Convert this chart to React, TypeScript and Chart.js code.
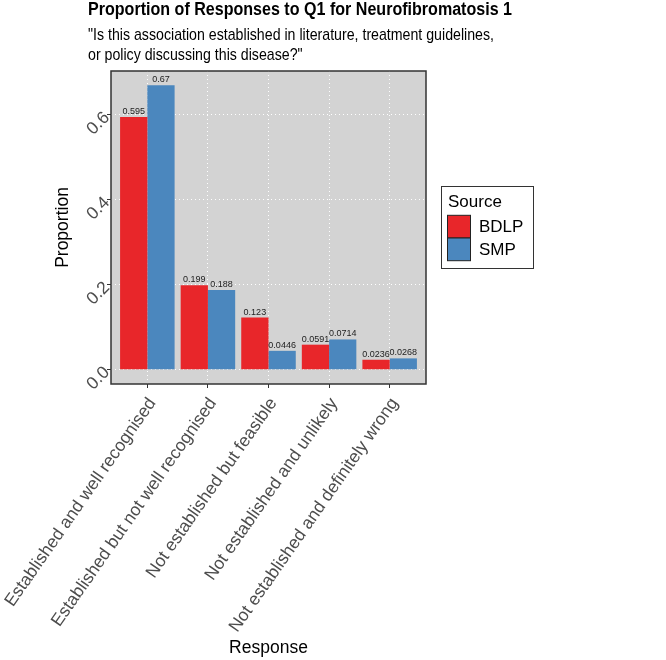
import React, { useEffect, useRef } from 'react';
import { Chart, registerables } from 'chart.js';

Chart.register(...registerables);

const categories = [
  'Established and well recognised',
  'Established but not well recognised',
  'Not established but feasible',
  'Not established and unlikely',
  'Not established and definitely wrong',
];
const seriesNames = ['BDLP', 'SMP'];
const bdlpValues = [0.595, 0.199, 0.123, 0.0591, 0.0236];
const smpValues = [0.67, 0.188, 0.0446, 0.0714, 0.0268];
const yTickValues = [0, 0.2, 0.4, 0.6];
const yTickLabels = ['0.0', '0.2', '0.4', '0.6'];
const titleText = 'Proportion of Responses to Q1 for Neurofibromatosis 1';
const subtitleLines = [
  '"Is this association established in literature, treatment guidelines,',
  'or policy discussing this disease?"',
];
const xTitle = 'Response';
const yTitle = 'Proportion';
const legendTitle = 'Source';

const seriesColors = ['#E8262A', '#4B87BE'];
const SANS = "'Liberation Sans', Arial, sans-serif";

function drawSqueezed(ctx: CanvasRenderingContext2D, text: string, x: number, y: number, sx: number) {
  ctx.save();
  ctx.translate(x, y);
  ctx.scale(sx, 1);
  ctx.fillText(text, 0, 0);
  ctx.restore();
}

const panelPlugin = {
  id: 'panelPlugin',
  beforeDraw(chart: any) {
    const { ctx, chartArea: a } = chart;
    ctx.save();
    ctx.fillStyle = '#D3D3D3';
    ctx.fillRect(a.left, a.top, a.right - a.left, a.bottom - a.top);
    ctx.restore();
  },
  afterDatasetsDraw(chart: any) {
    const { ctx, chartArea: a } = chart;
    ctx.save();
    ctx.font = `9px ${SANS}`;
    ctx.fillStyle = '#222';
    ctx.textAlign = 'center';
    ctx.textBaseline = 'bottom';
    chart.data.datasets.forEach((ds: any, di: number) => {
      const meta = chart.getDatasetMeta(di);
      meta.data.forEach((bar: any, i: number) => {
        const v = ds.data[i].y;
        ctx.fillText(String(v), bar.x, bar.y - 1);
      });
    });
    ctx.strokeStyle = '#333333';
    ctx.lineWidth = 1.5;
    ctx.strokeRect(a.left, a.top, a.right - a.left, a.bottom - a.top);
    ctx.restore();
  },
  afterDraw(chart: any) {
    const { ctx } = chart;
    ctx.save();
    ctx.fillStyle = '#000';
    ctx.textAlign = 'left';
    ctx.textBaseline = 'alphabetic';
    ctx.font = `bold 18px ${SANS}`;
    const tw = ctx.measureText(titleText).width;
    drawSqueezed(ctx, titleText, 88, 15, 424 / tw);
    ctx.font = `17px ${SANS}`;
    const sw = ctx.measureText(subtitleLines[0]).width;
    const ssx = 406 / sw;
    drawSqueezed(ctx, subtitleLines[0], 88, 39.5, ssx);
    drawSqueezed(ctx, subtitleLines[1], 88, 59.5, ssx);

    const lx = 441.5, ly = 186.5, lw = 92, lh = 82;
    ctx.strokeStyle = '#333333';
    ctx.lineWidth = 1;
    ctx.strokeRect(lx, ly, lw, lh);
    ctx.font = `17px ${SANS}`;
    ctx.fillStyle = '#000';
    ctx.fillText(legendTitle, 448, 206.5);
    const keyX = 447.5, keyW = 23, keyH = 22.7, keyY0 = 215.3;
    chart.data.datasets.forEach((ds: any, di: number) => {
      const ky = keyY0 + di * keyH;
      ctx.fillStyle = ds.backgroundColor;
      ctx.fillRect(keyX, ky, keyW, keyH);
      ctx.strokeStyle = '#222';
      ctx.lineWidth = 1;
      ctx.strokeRect(keyX, ky, keyW, keyH);
      ctx.fillStyle = '#000';
      ctx.textBaseline = 'middle';
      ctx.fillText(ds.label, 479, ky + keyH / 2 + 0.5);
    });
    ctx.restore();
  },
};

export default function App() {
  const ref = useRef<HTMLCanvasElement>(null);
  useEffect(() => {
    const canvas = ref.current;
    if (!canvas) return;
    const chart = new Chart(canvas, {
      type: 'bar',
      data: {
        datasets: [
          {
            label: seriesNames[0],
            data: categories.map((_, i) => ({ x: i + 1, y: bdlpValues[i] })),
            backgroundColor: seriesColors[0],
            borderWidth: 0,
            categoryPercentage: 0.9,
            barPercentage: 1,
          },
          {
            label: seriesNames[1],
            data: categories.map((_, i) => ({ x: i + 1, y: smpValues[i] })),
            backgroundColor: seriesColors[1],
            borderWidth: 0,
            categoryPercentage: 0.9,
            barPercentage: 1,
          },
        ] as any,
      },
      options: {
        responsive: true,
        maintainAspectRatio: false,
        animation: false,
        layout: { padding: { top: 71, right: 240, left: 0, bottom: 0 } },
        plugins: {
          legend: { display: false },
          tooltip: { enabled: false },
          title: { display: false },
        },
        scales: {
          x: {
            type: 'linear',
            min: 0.4,
            max: 5.6,
            offset: false,
            afterBuildTicks: (s: any) => {
              s.ticks = categories.map((_, i) => ({ value: i + 1 }));
            },
            afterFit: (s: any) => {
              s.height = 660 - 384;
              s.paddingLeft = 0;
              s.paddingRight = 0;
            },
            grid: {
              offset: false,
              color: '#FFFFFF',
              lineWidth: 1,
              drawTicks: true,
              tickLength: 4,
              tickColor: '#333333',
              tickWidth: 1,
            },
            border: { display: false, dash: [1, 3] },
            ticks: {
              autoSkip: false,
              minRotation: 55,
              maxRotation: 55,
              padding: 6,
              labelOffset: 5,
              color: '#4D4D4D',
              font: { family: SANS, size: 17.5 },
              callback: (_v: any, i: number) => categories[i],
            },
            title: {
              display: true,
              text: xTitle,
              color: '#000',
              font: { family: SANS, size: 17.5 },
              padding: { top: 0, bottom: 1 },
            },
          },
          y: {
            type: 'linear',
            min: -0.0335,
            max: 0.7035,
            afterBuildTicks: (s: any) => {
              s.ticks = yTickValues.map((v) => ({ value: v }));
            },
            afterFit: (s: any) => {
              s.width = 111;
              s.paddingTop = 0;
              s.paddingBottom = 0;
            },
            grid: {
              color: '#FFFFFF',
              lineWidth: 1,
              drawTicks: true,
              tickLength: 4,
              tickColor: '#333333',
              tickWidth: 1,
            },
            border: { display: false, dash: [1, 3] },
            ticks: {
              minRotation: 45,
              maxRotation: 45,
              padding: 0,
              color: '#4D4D4D',
              font: { family: SANS, size: 17.5 },
              callback: (_v: any, i: number) => yTickLabels[i],
            },
            title: {
              display: true,
              text: yTitle,
              color: '#000',
              font: { family: SANS, size: 17.5 },
              padding: { top: 53, bottom: 0 },
            },
          },
        },
      } as any,
      plugins: [panelPlugin],
    });
    return () => chart.destroy();
  }, []);

  return (
    <div style={{ position: 'fixed', left: 0, top: 0, width: 666, height: 660 }}>
      <canvas ref={ref} style={{ display: 'block' }} />
    </div>
  );
}
